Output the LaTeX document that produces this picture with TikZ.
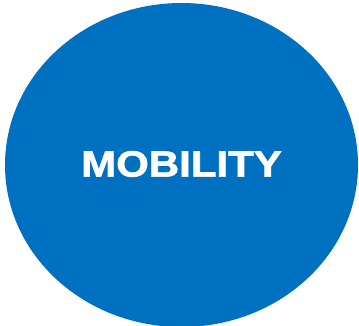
\documentclass[tikz,border=0pt]{standalone}
\usepackage{fontspec}
\setmainfont{Liberation Sans}
\newfontfamily\heavyfont[FakeBold=1.6]{Liberation Sans Bold}
\usetikzlibrary{shapes.geometric}
\definecolor{colB}{RGB}{0,112,192}
\tikzstyle{blob}=[ellipse, fill=colB, inner sep=0pt, minimum width=353pt, minimum height=324pt]
\tikzstyle{word}=[text=white, font=\heavyfont\fontsize{36.5}{36.5}\selectfont, inner sep=0pt, xscale=1.15]

\begin{document}
\begin{tikzpicture}[x=1pt,y=-1pt]
		\useasboundingbox (0,0) rectangle (359,325);
		\node[blob] (circ) at (181.5, 165) {};
		\node[word] (lbl) at (181.5, 164) {MOBILITY};
	\end{tikzpicture}
\end{document}
